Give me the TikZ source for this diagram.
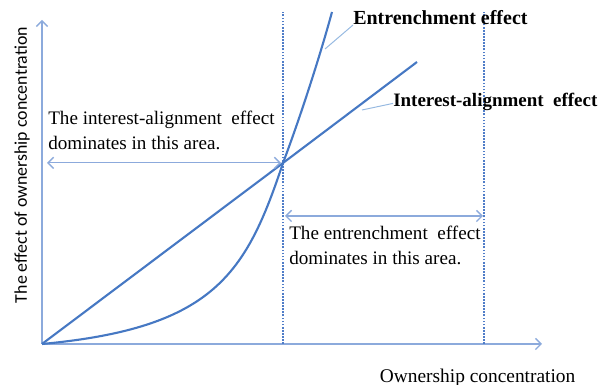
\documentclass[tikz,border=0pt]{standalone}
\usepackage{fontspec}
\setmainfont{Liberation Serif}
\newfontfamily\axisfont{Carlito}
\usetikzlibrary{arrows.meta,positioning,calc}
\definecolor{lineblue}{RGB}{70,120,195}
\definecolor{axisblue}{RGB}{140,170,220}
\definecolor{guideblue}{RGB}{80,125,200}
\definecolor{tagblue}{RGB}{150,185,225}

\begin{document}
\begin{tikzpicture}[
    curve/.style={lineblue, line width=1.5pt},
    axisline/.style={axisblue, line width=1pt, -{Straight Barb[length=4pt,width=8pt]}},
    guide/.style={guideblue, line width=1.2pt, densely dotted},
    span/.style={axisblue, line width=1pt, {Straight Barb[length=4pt,width=8pt]}-{Straight Barb[length=4pt,width=8pt]}},
    pointer/.style={tagblue, line width=0.7pt},
    note/.style={align=left, inner sep=0pt, font=\fontsize{13.6}{17.8}\selectfont},
    tag/.style={inner sep=0pt, font=\fontsize{13.5}{16}\selectfont\bfseries}
]
\useasboundingbox (-1.05,-1.025) rectangle (13.95,8.6);

% axes
\coordinate (O) at (0,0);
\coordinate (ytop) at (0,8.1);
\coordinate (xend) at (12.5,0);
\draw[axisline] (O) -- (ytop);
\draw[axisline] (O) -- (xend);
\node[rotate=90, font=\axisfont\fontsize{12.7}{14}\selectfont] (ylbl) at (-0.5,4.475) {The effect of ownership concentration};
\node[font=\fontsize{13.8}{16}\selectfont] (xlbl) at (10.89,-0.85) {Ownership concentration};

% threshold lines
\coordinate (X) at (6.025,4.525);
\coordinate (g1) at (6.025,0);
\coordinate (g1top) at (6.025,8.3);
\coordinate (g2) at (11.05,0);
\coordinate (g2top) at (11.05,8.3);
\draw[guide] (g1) -- (g1top);
\draw[guide] (g2) -- (g2top);

% the two effects
\coordinate (itop) at (9.375,7.05);
\coordinate (etop) at (7.25,8.3);
\draw[curve] (O) -- (X) -- (itop);
\draw[curve] (O) .. controls (4.3,0.4) and (5.1,1.75) .. (X)
  .. controls (6.45,5.65) and (6.95,7.2) .. (etop);

\node[tag, anchor=west, font=\fontsize{14.2}{16}\selectfont\bfseries] (elbl) at (7.775,8.15) {Entrenchment effect};
\node[tag, anchor=west] (ilbl) at (8.775,6.05) {Interest-alignment\ \ effect};
\coordinate (ept) at (7.075,7.375);
\coordinate (ipt) at (8.0,5.85);
\draw[pointer] (ept) -- ([yshift=-5pt]elbl.west);
\draw[pointer] (ipt) -- ([yshift=-1pt]ilbl.west);

% areas
\coordinate (la) at (0.125,4.53);
\coordinate (lb) at (5.975,4.53);
\coordinate (ra) at (6.075,3.2);
\coordinate (rb) at (11.025,3.2);
\draw[span] (la) -- (lb);
\draw[span] (ra) -- (rb);
\node[note, anchor=west] (lnote) at (0.15,5.34) {The interest-alignment\ \ effect\\dominates in this area.};
\node[note, anchor=west] (rnote) at (6.175,2.46) {The entrenchment\ \ effect\\dominates in this area.};
\end{tikzpicture}
\end{document}
